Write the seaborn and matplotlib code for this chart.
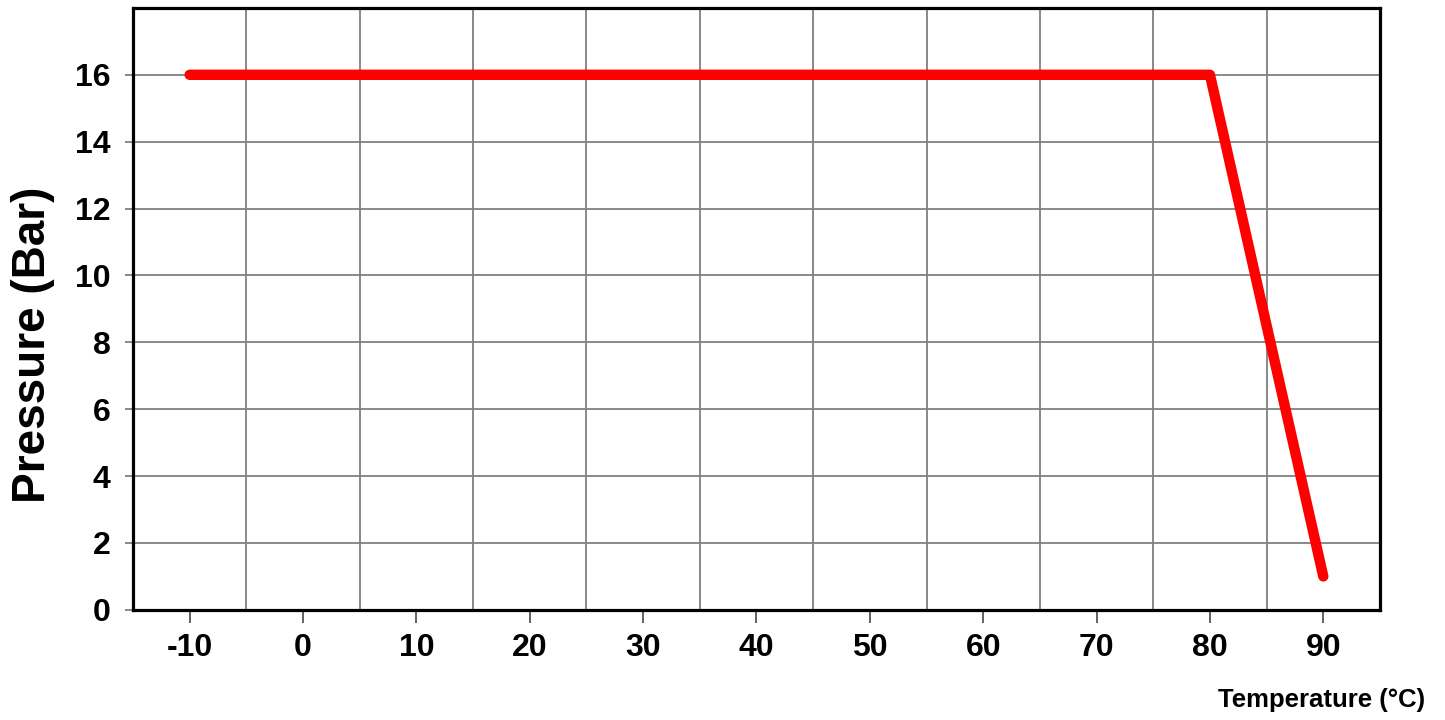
import matplotlib
matplotlib.use('Agg')
import matplotlib.pyplot as plt
import seaborn as sns
import pandas as pd

# curve of max pressure vs temperature
temperature = [-10, 80, 90]
pressure = [16, 16, 1]
x_ticks = [-10, 0, 10, 20, 30, 40, 50, 60, 70, 80, 90]
x_grid = [-5, 5, 15, 25, 35, 45, 55, 65, 75, 85]
y_ticks = [0, 2, 4, 6, 8, 10, 12, 14, 16]

df = pd.DataFrame({'temperature': temperature, 'pressure': pressure})

sns.set_style('white')
plt.rcParams['font.family'] = ['Liberation Sans', 'DejaVu Sans']
plt.rcParams['axes.unicode_minus'] = False

fig = plt.figure(figsize=(14.45, 7.2), dpi=100)
ax = fig.add_axes([0.092, 0.153, 0.863, 0.836])

sns.lineplot(data=df, x='temperature', y='pressure', ax=ax, color='#ff0000',
             linewidth=7.5, solid_capstyle='round', solid_joinstyle='round',
             zorder=5)

ax.set_xlim(-15, 95)
ax.set_ylim(0, 18)
ax.set_xticks(x_ticks)
ax.set_xticks(x_grid, minor=True)
ax.set_yticks(y_ticks)

ax.grid(False)
ax.grid(axis='x', which='minor', color='#808080', linewidth=1.3)
ax.grid(axis='y', which='major', color='#808080', linewidth=1.3)

ax.tick_params(axis='x', which='major', direction='out', length=9, width=1.3,
               color='#555555', pad=8, labelsize=23, labelcolor='black',
               bottom=True)
ax.tick_params(axis='x', which='minor', length=0)
ax.tick_params(axis='y', which='major', direction='out', length=6, width=1.3,
               color='#808080', pad=10, labelsize=23, labelcolor='black',
               left=True)
for lbl in ax.get_xticklabels() + ax.get_yticklabels():
    lbl.set_fontweight('bold')

for s in ax.spines.values():
    s.set_visible(True)
    s.set_color('black')
    s.set_linewidth(2.3)

ax.set_xlabel('')
ax.set_ylabel('')
fig.text(0.0228, 0.521, 'Pressure (Bar)', rotation=90, ha='center', va='center',
         fontsize=33, fontweight='bold', color='black')
fig.text(0.986, 0.028, 'Temperature (°C)', ha='right', va='center',
         fontsize=18.5, fontweight='bold', color='black')

fig.savefig('out.png', dpi=100)
